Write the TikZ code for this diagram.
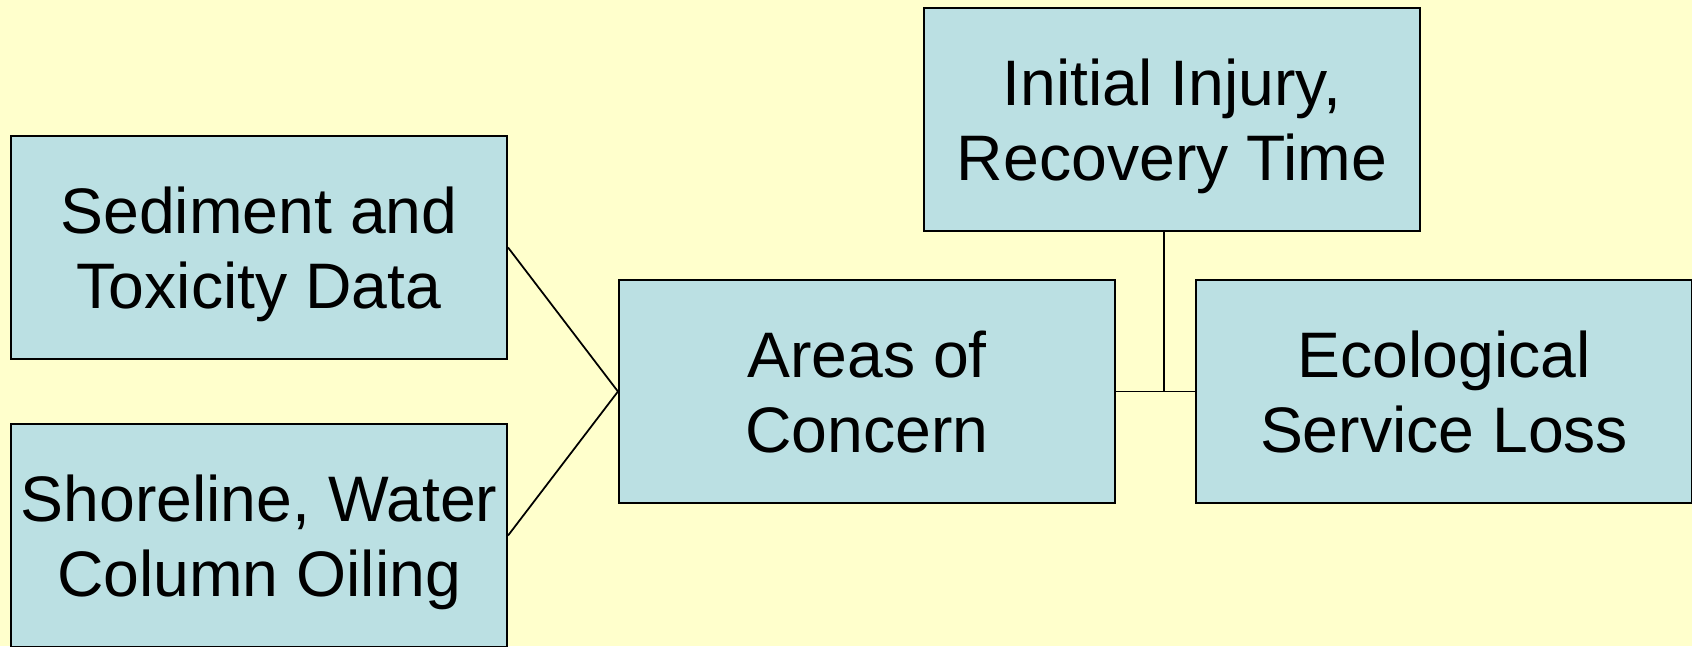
\documentclass[tikz,border=0pt]{standalone}
\usepackage{fontspec}
\setmainfont{Liberation Sans}
\usetikzlibrary{
    positioning,
    calc,
    backgrounds,
}
\definecolor{paper}{RGB}{255,255,204}
\definecolor{boxfill}{RGB}{187,224,227}

\begin{document}
\begin{tikzpicture}[
    node distance= 0.79cm,
    topic/.style={draw, color=black, fill=boxfill, line width=0.6pt,
    text=black, align=center, minimum width=4.96cm, minimum height=2.23cm,
    inner xsep=0pt, text depth=0pt, font=\fontsize{18.3}{21.4}\selectfont},
    link/.style={draw, line width=0.5pt},
]

% PAGE
\useasboundingbox[fill=paper] (0,0) rectangle (16.92,-6.46);

% INPUTS
\node[topic] at (2.59,-2.475) (sediment) {Sediment and\\Toxicity Data};
\node[topic] at (2.59,-5.355) (shoreline) {Shoreline, Water\\Column Oiling};

% AREAS
\node[topic] at (8.67,-3.915) (areas) {Areas of\\Concern};

% OUTPUTS
\node[topic] at (11.72,-1.195) (injury) {Initial Injury,\\Recovery Time};
\node[topic] [right=of areas] (service) {Ecological\\Service Loss};

% CONNECTORS
\draw[link] (sediment.east) -- (areas.west);
\draw[link] (shoreline.east) -- (areas.west);
\draw[link] (areas.east) -- (service.west);
\coordinate (joint) at (11.64,-3.915);
\draw[link] (injury.south -| joint) -- (joint);

\end{tikzpicture}
\end{document}
